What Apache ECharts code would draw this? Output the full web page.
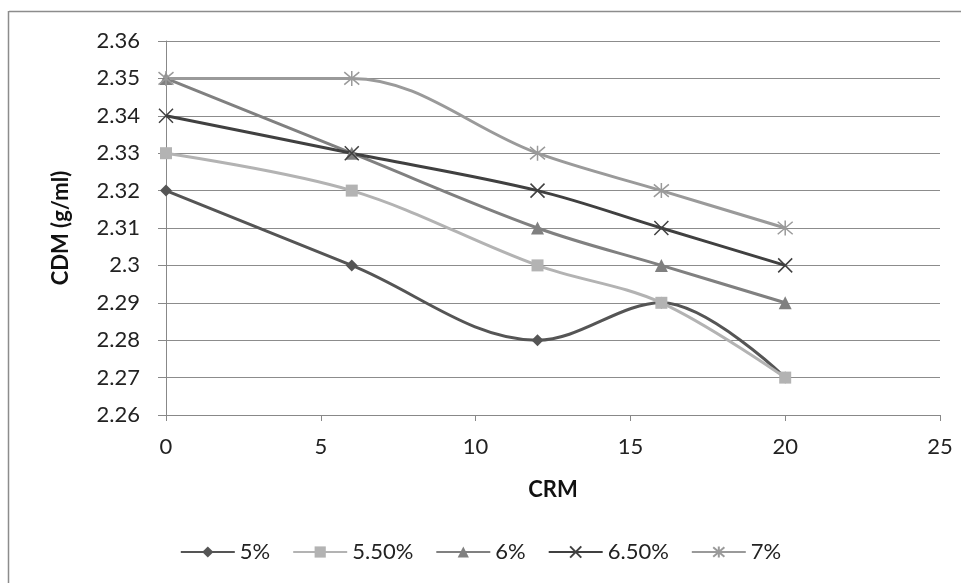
<!DOCTYPE html>
<html><head><meta charset="utf-8">
<script src="https://cdn.jsdelivr.net/npm/echarts@6/dist/echarts.min.js"></script>
<style>html,body{margin:0;padding:0;background:#fff}#c{width:961px;height:583px}</style>
</head><body><div id="c"></div>
<script>
const crm = [0, 6, 12, 16, 20];
const s5 = [2.32, 2.30, 2.28, 2.29, 2.27];
const s55 = [2.33, 2.32, 2.30, 2.29, 2.27];
const s6 = [2.35, 2.33, 2.31, 2.30, 2.29];
const s65 = [2.34, 2.33, 2.32, 2.31, 2.30];
const s7 = [2.35, 2.35, 2.33, 2.32, 2.31];
const names = ['5%', '5.50%', '6%', '6.50%', '7%'];

const F = 'Lato, "Open Sans", sans-serif';
const xPath = 'path://M0,0L10,10M10,0L0,10';
const starPath = 'path://M0,0L10,10M10,0L0,10M5,-1L5,11';
const cfg = [
  {d: s5, color: '#555555', sym: 'diamond', size: 12},
  {d: s55, color: '#b3b3b3', sym: 'rect', size: 12},
  {d: s6, color: '#808080', sym: 'triangle', size: 13},
  {d: s65, color: '#404040', sym: xPath, size: 14, stroke: true},
  {d: s7, color: '#9a9a9a', sym: starPath, size: 15, stroke: true}
];
const series = cfg.map((c, i) => ({
  name: names[i], type: 'line', smooth: 0.35,
  data: crm.map((x, j) => [x, c.d[j]]),
  symbol: c.sym, symbolSize: c.size,
  lineStyle: {color: c.color, width: 3},
  itemStyle: c.stroke ? {color: 'none', borderColor: c.color, borderWidth: 1.5} : {color: c.color, borderWidth: 0},
  color: c.color
}));
const chart = echarts.init(document.getElementById('c'));
chart.setOption({
  animation: false,
  backgroundColor: '#fff',
  graphic: [
    {type: 'line', shape: {x1: 9, y1: 11.5, x2: 961, y2: 11.5}, style: {stroke: '#8c8c8c', lineWidth: 1.5}},
    {type: 'line', shape: {x1: 8.5, y1: 11, x2: 8.5, y2: 583}, style: {stroke: '#8c8c8c', lineWidth: 1.5}}
  ],
  grid: {left: 166, right: 21, top: 41, bottom: 168},
  legend: {
    top: 536, left: 'center', itemGap: 22, itemWidth: 54, itemHeight: 14,
    textStyle: {fontFamily: F, fontSize: 22, color: '#222'},
    data: names
  },
  xAxis: {
    type: 'value', min: 0, max: 25, interval: 5,
    name: 'CRM', nameLocation: 'middle', nameGap: 64,
    nameTextStyle: {fontFamily: F, fontSize: 22, fontWeight: 'bold', color: '#111'},
    axisLine: {lineStyle: {color: '#888', width: 1}},
    axisTick: {show: true, length: 6, lineStyle: {color: '#888'}},
    axisLabel: {fontFamily: F, fontSize: 22, color: '#222', margin: 21},
    splitLine: {show: false}
  },
  yAxis: {
    type: 'value', min: 2.26, max: 2.36, interval: 0.01,
    name: 'CDM (g/ml)', nameLocation: 'middle', nameGap: 94, nameRotate: 90,
    nameTextStyle: {fontFamily: F, fontSize: 22, fontWeight: 'bold', color: '#111'},
    axisLine: {show: true, lineStyle: {color: '#888', width: 1}},
    axisTick: {show: true, inside: false, length: 8, lineStyle: {color: '#888'}},
    axisLabel: {fontFamily: F, fontSize: 22, color: '#222', margin: 26,
      formatter: v => String(Math.round(v * 100) / 100)},
    splitLine: {show: true, lineStyle: {color: '#8c8c8c', width: 1}}
  },
  series: series
});
</script></body></html>
